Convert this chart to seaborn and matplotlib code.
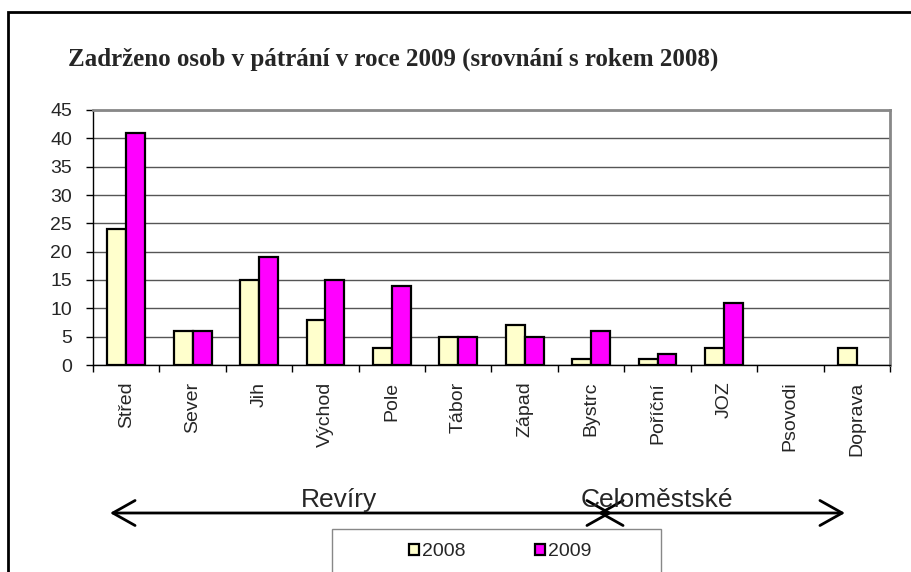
import pandas as pd
import matplotlib
matplotlib.use("Agg")
import matplotlib.pyplot as plt
import matplotlib.patches as patches
from matplotlib.ticker import MultipleLocator, FixedLocator
import seaborn as sns

# data
categories = ["Střed", "Sever", "Jih", "Východ", "Pole", "Tábor", "Západ",
              "Bystrc", "Poříční", "JOZ", "Psovodi", "Doprava"]
values_2008 = [24, 6, 15, 8, 3, 5, 7, 1, 1, 3, 0, 3]
values_2009 = [41, 6, 19, 15, 14, 5, 5, 6, 2, 11, 0, 0]
years = ["2008", "2009"]
title = "Zadrženo osob v pátrání v roce 2009 (srovnání s rokem 2008)"

df = pd.DataFrame({
    "kategorie": categories * 2,
    "rok": [years[0]] * len(categories) + [years[1]] * len(categories),
    "pocet": values_2008 + values_2009,
})
colors = {"2008": "#FFFFCC", "2009": "#FF00FF"}

sns.set_style("white")
plt.rcParams['font.family'] = ['Liberation Sans', 'DejaVu Sans']

W, H = 911, 572
fig = plt.figure(figsize=(W / 100, H / 100), dpi=100)

def fx(px):
    return px / W

def fy(py):
    return 1 - py / H

ax = fig.add_axes([fx(93), fy(365), fx(890) - fx(93), fy(110) - fy(365)])

sns.barplot(data=df, x="kategorie", y="pocet", hue="rok",
            palette=colors, saturation=1,
            edgecolor="black", linewidth=1.6, width=0.57, ax=ax)

# legend proxies before touching the bars
handles = [patches.Patch(facecolor=colors[y], edgecolor="black", linewidth=1.6) for y in years]
ax.get_legend().remove()

# Excel draws nothing for zero values
for bar in ax.patches:
    if bar.get_height() == 0:
        bar.set_visible(False)

ax.set_ylim(0, 45)
ax.set_xlim(-0.5, len(categories) - 0.5)
ax.yaxis.set_major_locator(MultipleLocator(5))
ax.grid(axis="y", color="#555555", linewidth=1)
ax.set_axisbelow(True)
ax.set_xlabel("")
ax.set_ylabel("")

ax.tick_params(axis="y", labelsize=14, length=5, width=1, color="black",
               left=True, direction="out", pad=10)
ax.set_xticks(range(len(categories)))
ax.set_xticklabels(categories, rotation=90, fontsize=14)
ax.tick_params(axis="x", which="major", length=0, pad=12)
ax.xaxis.set_minor_locator(FixedLocator([k - 0.5 for k in range(len(categories) + 1)]))
ax.tick_params(axis="x", which="minor", length=5, width=1, color="black",
               bottom=True, direction="out")

for side in ["left", "bottom"]:
    ax.spines[side].set_color("black")
    ax.spines[side].set_linewidth(1)
for side in ["top", "right"]:
    ax.spines[side].set_color("#888888")
    ax.spines[side].set_linewidth(2)

# legend inside a manual box (box runs off the bottom edge)
fig.patches.append(patches.Rectangle((fx(332), fy(575)), fx(661) - fx(332), fy(529) - fy(575),
                                     transform=fig.transFigure, fill=False,
                                     edgecolor="#888888", linewidth=1))
fig.legend(handles, years, loc="center", bbox_to_anchor=(fx(500), fy(552)),
           ncol=2, frameon=False, fontsize=14, handlelength=0.5, handleheight=0.5,
           handletextpad=0.15, columnspacing=3.6)

# outer frame
fig.patches.append(patches.Rectangle((fx(8), fy(600)), fx(930) - fx(8), fy(12) - fy(600),
                                     transform=fig.transFigure, fill=False,
                                     edgecolor="black", linewidth=2))

fig.text(fx(68), fy(66), title, fontsize=18, fontweight="bold",
         family=["Liberation Serif", "DejaVu Serif"], va="baseline", ha="left")

# group arrows
arrow_style = "<->,head_length=0.8,head_width=0.45"
fig.patches.append(patches.FancyArrowPatch((fx(110), fy(513)), (fx(612), fy(513)),
                                           transform=fig.transFigure, arrowstyle=arrow_style,
                                           mutation_scale=20, linewidth=2, color="black",
                                           shrinkA=0, shrinkB=0))
fig.patches.append(patches.FancyArrowPatch((fx(598), fy(513)), (fx(845), fy(513)),
                                           transform=fig.transFigure, arrowstyle=arrow_style,
                                           mutation_scale=20, linewidth=2, color="black",
                                           shrinkA=0, shrinkB=0))
fig.text(fx(339), fy(507), "Revíry", fontsize=19, ha="center", va="baseline")
fig.text(fx(657), fy(507), "Celoměstské", fontsize=19, ha="center", va="baseline")

fig.savefig("out.png", dpi=100)
